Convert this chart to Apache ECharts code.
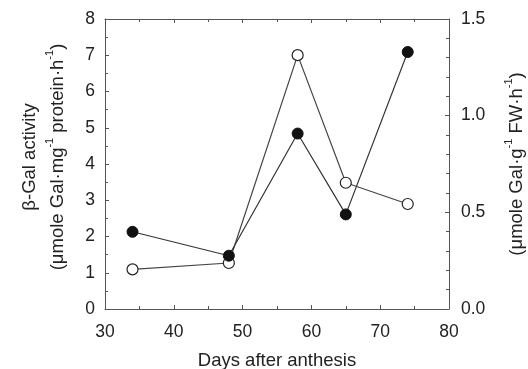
<!DOCTYPE html>
<html><head><meta charset="utf-8">
<script src="https://cdn.jsdelivr.net/npm/echarts@6/dist/echarts.min.js"></script>
<style>html,body{margin:0;padding:0;background:#fff}#c{width:528px;height:369px}</style>
</head><body><div id="c"></div>
<script>
// Days after anthesis
const days = [34, 48, 58, 65, 74];
// filled circles: per mg protein (left axis)
const proteinActivity = [2.13, 1.47, 4.84, 2.61, 7.09];
// open circles: per g FW (right axis)
const fwActivity = [0.205, 0.238, 1.313, 0.653, 0.543];
const xTicks = [30, 80, 10];
const leftTicks = [0, 8, 1];
const rightTicks = [0, 1.5, 0.5];

const font = 'Liberation Sans, Arial, sans-serif';
const txt = '#222';
const axisCol = '#555';
const chart = echarts.init(document.getElementById('c'), null, {renderer: 'canvas'});
const baseStyle = {fontSize: 18.5, fontFamily: font, color: txt, lineHeight: 28};
const supStyle = {fontSize: 11, fontFamily: font, color: txt, verticalAlign: 'top', lineHeight: 17};

chart.setOption({
  animation: false,
  backgroundColor: '#fff',
  grid: {left: 105, right: 79, top: 19, bottom: 60, containLabel: false, outerBoundsMode: 'none'},
  xAxis: [{
    type: 'value', min: xTicks[0], max: xTicks[1], interval: xTicks[2],
    name: 'Days after anthesis', nameLocation: 'middle', nameGap: 42,
    nameTextStyle: {fontSize: 18.5, fontFamily: font, color: txt},
    axisLine: {show: true, lineStyle: {color: axisCol, width: 1}},
    axisTick: {show: true, inside: true, length: 4, lineStyle: {color: axisCol}},
    minorTick: {show: true, splitNumber: 2, length: 3, lineStyle: {color: axisCol}},
    axisLabel: {fontSize: 17.5, fontFamily: font, color: txt, margin: 14},
    splitLine: {show: false}
  }, {
    type: 'value', position: 'top', min: xTicks[0], max: xTicks[1], interval: xTicks[2],
    axisLine: {show: true, onZero: false, lineStyle: {color: axisCol, width: 1}},
    axisTick: {show: true, inside: true, length: 4, lineStyle: {color: axisCol}},
    minorTick: {show: true, splitNumber: 2, length: 3, lineStyle: {color: axisCol}},
    axisLabel: {show: false}, splitLine: {show: false}
  }],
  yAxis: [{
    type: 'value', min: leftTicks[0], max: leftTicks[1], interval: leftTicks[2],
    name: '{b|β-Gal activity}\n{b|(μmole Gal·mg}{s|-1}{b| protein·h}{s|-1}{b|)}',
    nameLocation: 'middle', nameGap: 33,
    nameTextStyle: {padding: [0, 0, 0, 14], rich: {b: baseStyle, s: supStyle}},
    axisLine: {show: true, onZero: false, lineStyle: {color: axisCol, width: 1}},
    axisTick: {show: true, inside: true, length: 4, lineStyle: {color: axisCol}},
    minorTick: {show: true, splitNumber: 2, length: 3, lineStyle: {color: axisCol}},
    axisLabel: {fontSize: 17.5, fontFamily: font, color: txt, margin: 10},
    splitLine: {show: false}
  }, {
    type: 'value', position: 'right', min: rightTicks[0], max: rightTicks[1], interval: rightTicks[2],
    name: '{b|(μmole Gal·g}{s|-1}{b| FW·h}{s|-1}{b|)}',
    nameLocation: 'middle', nameGap: 54,
    nameTextStyle: {rich: {b: baseStyle, s: supStyle}},
    axisLine: {show: true, onZero: false, lineStyle: {color: axisCol, width: 1}},
    axisTick: {show: true, inside: true, length: 4, lineStyle: {color: axisCol}},
    minorTick: {show: true, splitNumber: 5, length: 3, lineStyle: {color: axisCol}},
    axisLabel: {fontSize: 17.5, fontFamily: font, color: txt, margin: 12,
      formatter: v => v.toFixed(1)},
    splitLine: {show: false}
  }],
  series: [{
    type: 'line', xAxisIndex: 0, yAxisIndex: 1,
    data: days.map((d, i) => [d, fwActivity[i]]),
    symbol: 'circle', symbolSize: 11,
    lineStyle: {color: '#444', width: 1.2},
    itemStyle: {color: '#fff', borderColor: '#222', borderWidth: 1.2},
    z: 2
  }, {
    type: 'line', xAxisIndex: 0, yAxisIndex: 0,
    data: days.map((d, i) => [d, proteinActivity[i]]),
    symbol: 'circle', symbolSize: 11,
    lineStyle: {color: '#333', width: 1.2},
    itemStyle: {color: '#111', borderColor: '#111', borderWidth: 1},
    z: 3
  }]
});
</script></body></html>
